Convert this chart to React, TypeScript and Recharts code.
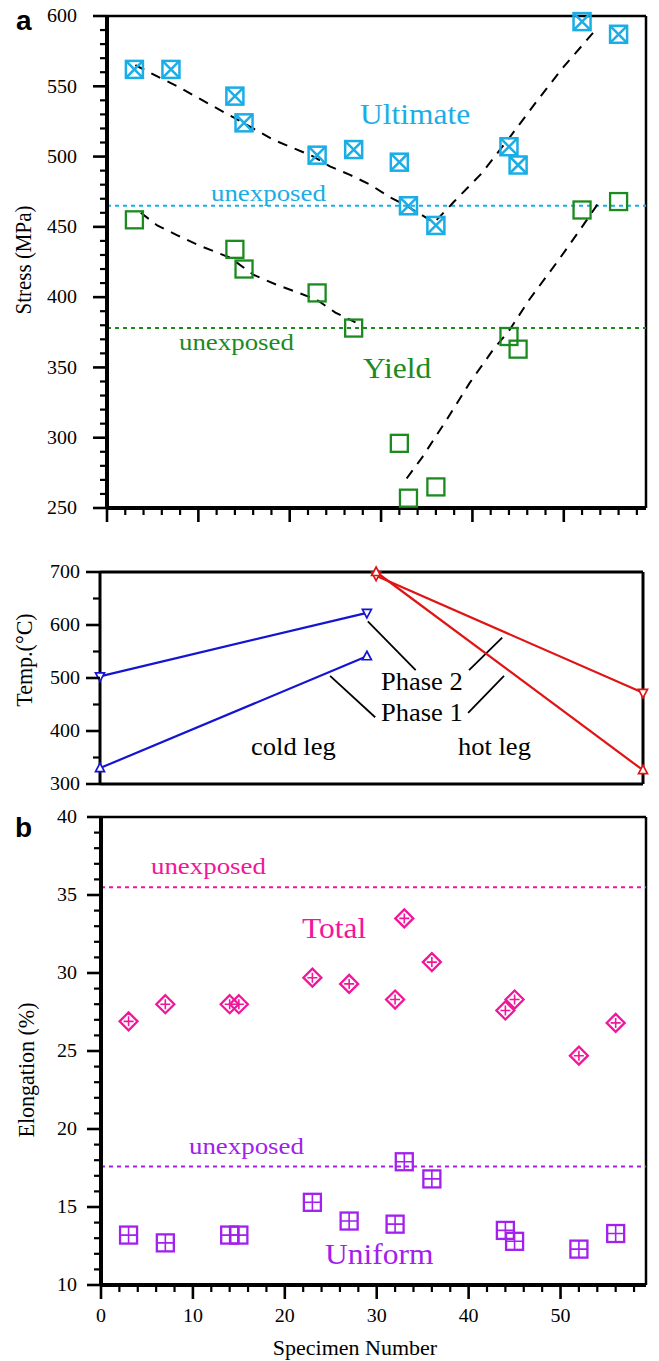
import React from 'react';
import { ComposedChart, Scatter, XAxis, YAxis, ReferenceLine } from 'recharts';

const FONT = '"Liberation Serif", "Times New Roman", Times, serif';
const SANS = '"Liberation Sans", Arial, sans-serif';

const ULT = '#1AADE6';
const YLD = '#1B8A1F';
const TOT = '#F2169B';
const UNI = '#A320EE';
const COLD = '#1414D2';
const HOT = '#E01414';

// panel a - stress vs specimen number
const ultSpecimen = [3, 7, 14, 15, 23, 27, 32, 33, 36, 44, 45, 52, 56];
const ultStress = [562, 562, 543, 524, 501, 505, 496, 465, 451, 507, 494, 596, 587];
const yldSpecimen = [3, 14, 15, 23, 27, 32, 33, 36, 44, 45, 52, 56];
const yldStress = [455, 434, 420, 403, 378, 296, 257, 265, 372, 363, 462, 468];
const ultUnexposed = 465;
const yldUnexposed = 378;

// dashed trend curves
const ultTrendX = [3.1, 5.5, 7.7, 9.9, 13.8, 16, 18.2, 20.4, 22.6, 24.4, 26.6, 28.8, 31, 32.8, 35.8, 38, 41, 44, 47, 50, 53.2];
const ultTrendY = [565, 557, 550, 542, 528, 520, 512, 506, 500, 493, 487, 480, 471, 465, 453, 468, 488, 513, 539, 564, 588];
const yldTrend1X = [3.7, 5.5, 7.7, 10, 13.5, 16, 18.5, 21, 23, 25, 27.2];
const yldTrend1Y = [460, 451, 444, 437, 428, 416, 409, 403, 398, 389, 382];
const yldTrend2X = [32.8, 34.5, 37.2, 39.7, 42.2, 44.1, 46.2, 49.5, 52, 53.8];
const yldTrend2Y = [271, 286, 313, 339, 362, 377, 398, 427, 450, 467];

// middle - temperature
const coldSpecimen = [0, 29];
const hotSpecimen = [30, 59];
const coldPhase1 = [330, 541];
const coldPhase2 = [503, 623];
const hotPhase1 = [700, 326];
const hotPhase2 = [693, 472];

// panel b - elongation
const elongSpecimen = [3, 7, 14, 15, 23, 27, 32, 33, 36, 44, 45, 52, 56];
const totalElong = [26.9, 28.0, 28.0, 28.0, 29.7, 29.3, 28.3, 33.5, 30.7, 27.6, 28.3, 24.7, 26.8];
const uniformElong = [13.2, 12.7, 13.2, 13.2, 15.3, 14.1, 13.9, 17.9, 16.8, 13.5, 12.8, 12.3, 13.3];
const totalUnexposed = 35.5;
const uniformUnexposed = 17.6;

const steps = (a: number, b: number, s: number) => {
  const out: number[] = [];
  for (let v = a; v <= b + 1e-9; v += s) out.push(Math.round(v * 100) / 100);
  return out;
};
const specimenTicks = steps(0, 58, 2);
const stressTicks = steps(250, 600, 10);
const tempTicks = steps(300, 700, 50);
const elongTicks = steps(10, 40, 1);

const pts = (xs: number[], ys: number[]) => xs.map((x, i) => ({ x, y: ys[i] }));

function SText({ x, y, size, anchor = 'start', color = '#000', sx = 1.08, dy, rotate, weight, family = FONT, children }: any) {
  const tf = `translate(${x},${y}) scale(${sx},1)` + (rotate ? ` rotate(${rotate})` : '');
  return (
    <g transform={tf}>
      <text x={0} y={0} dy={dy} fontSize={size} fontFamily={family} fontWeight={weight} fill={color} textAnchor={anchor}>
        {children}
      </text>
    </g>
  );
}

const isMajor = (v: number, step: number) => Math.abs(v / step - Math.round(v / step)) < 1e-6;

const xTick = (labels: boolean) => (p: any) => {
  const v = p.payload.value;
  const major = isMajor(v, 10);
  return (
    <g>
      <line x1={p.x} x2={p.x} y1={p.y} y2={p.y + (major ? 14 : 7)} stroke="#000" strokeWidth={major ? 2.6 : 2.2} />
      {labels && major && (
        <SText x={p.x} y={p.y + 37} anchor="middle" size={18.5}>{v}</SText>
      )}
    </g>
  );
};

const yTick = (step: number, gap: number, side: 'left' | 'right', labels = true) => (p: any) => {
  const v = p.payload.value;
  const major = isMajor(v, step);
  const dir = side === 'left' ? -1 : 1;
  return (
    <g>
      <line x1={p.x} x2={p.x + dir * (major ? 14 : 7)} y1={p.y} y2={p.y} stroke="#000" strokeWidth={major ? 2.6 : 2.2} />
      {labels && major && (
        <SText x={p.x - gap} y={p.y} dy="0.34em" anchor="end" size={18.5}>{v}</SText>
      )}
    </g>
  );
};

const noDot = () => <g />;

const UltMark = (p: any) => {
  const { cx, cy } = p;
  const h = 8.5;
  return (
    <g stroke={ULT} strokeWidth={2.5} fill="none">
      <rect x={cx - h} y={cy - h} width={2 * h} height={2 * h} />
      <path d={`M${cx - h},${cy - h}L${cx + h},${cy + h}M${cx + h},${cy - h}L${cx - h},${cy + h}`} />
    </g>
  );
};
const YldMark = (p: any) => {
  const h = 8.5;
  return <rect x={p.cx - h} y={p.cy - h} width={2 * h} height={2 * h} stroke={YLD} strokeWidth={2.3} fill="none" />;
};
const TotMark = (p: any) => {
  const { cx, cy } = p;
  const h = 9;
  const c = 5;
  return (
    <g stroke={TOT} strokeWidth={2.3} fill="none">
      <path d={`M${cx},${cy - h}L${cx + h},${cy}L${cx},${cy + h}L${cx - h},${cy}Z`} />
      <path d={`M${cx},${cy - c}L${cx},${cy + c}M${cx - c},${cy}L${cx + c},${cy}`} strokeWidth={1.6} />
    </g>
  );
};
const UniMark = (p: any) => {
  const { cx, cy } = p;
  const h = 8.5;
  return (
    <g stroke={UNI} strokeWidth={2.3} fill="none">
      <rect x={cx - h} y={cy - h} width={2 * h} height={2 * h} />
      <path d={`M${cx},${cy - h}L${cx},${cy + h}M${cx - h},${cy}L${cx + h},${cy}`} strokeWidth={1.6} />
    </g>
  );
};
const triUp = (color: string) => (p: any) => {
  const { cx, cy } = p;
  return <path d={`M${cx},${cy - 5}L${cx + 4.5},${cy + 3.5}L${cx - 4.5},${cy + 3.5}Z`} fill="#fff" stroke={color} strokeWidth={1.7} />;
};
const triDown = (color: string) => (p: any) => {
  const { cx, cy } = p;
  return <path d={`M${cx},${cy + 5}L${cx + 4.5},${cy - 3.5}L${cx - 4.5},${cy - 3.5}Z`} fill="#fff" stroke={color} strokeWidth={1.7} />;
};

const dashed = { stroke: '#000', strokeWidth: 2, strokeDasharray: '10 8' };
const axisThick = { stroke: '#000', strokeWidth: 4 };

export default function App() {
  return (
    <div style={{ position: 'absolute', left: 0, top: 0, width: 659, height: 1361, background: '#fff' }}>
      {/* panel a */}
      <div style={{ position: 'absolute', left: 0, top: 0 }}>
        <ComposedChart width={659} height={530} margin={{ top: 16, right: 13, bottom: 0, left: 0 }}>
          <XAxis type="number" dataKey="x" domain={[0, 59]} ticks={specimenTicks} interval={0} height={22}
            tickSize={0} tickMargin={0} axisLine={axisThick} tickLine={false} tick={xTick(false)} />
          <YAxis type="number" dataKey="y" domain={[250, 600]} ticks={stressTicks} interval={0} width={107}
            tickSize={0} tickMargin={0} axisLine={axisThick} tickLine={false} tick={yTick(50, 30, 'left')} />
          <ReferenceLine y={600} stroke="#000" strokeWidth={2.5} />
          <ReferenceLine x={59} stroke="#000" strokeWidth={2.5} />
          <ReferenceLine y={ultUnexposed} stroke={ULT} strokeWidth={2} strokeDasharray="4 4" />
          <ReferenceLine y={yldUnexposed} stroke={YLD} strokeWidth={2} strokeDasharray="4 4" />
          <Scatter data={pts(ultTrendX, ultTrendY)} line={dashed} shape={noDot} isAnimationActive={false} />
          <Scatter data={pts(yldTrend1X, yldTrend1Y)} line={dashed} shape={noDot} isAnimationActive={false} />
          <Scatter data={pts(yldTrend2X, yldTrend2Y)} line={dashed} shape={noDot} isAnimationActive={false} />
          <Scatter data={pts(yldSpecimen, yldStress)} shape={YldMark} isAnimationActive={false} />
          <Scatter data={pts(ultSpecimen, ultStress)} shape={UltMark} isAnimationActive={false} />
        </ComposedChart>
      </div>

      {/* temperature */}
      <div style={{ position: 'absolute', left: 0, top: 550 }}>
        <ComposedChart width={659} height={250} margin={{ top: 22, right: 0, bottom: 16, left: 0 }}>
          <XAxis type="number" dataKey="x" domain={[0, 59]} hide />
          <YAxis type="number" dataKey="y" domain={[300, 700]} ticks={tempTicks} interval={0} width={100}
            tickSize={0} tickMargin={0} axisLine={{ stroke: '#000', strokeWidth: 3 }} tickLine={false}
            tick={yTick(100, 20, 'left')} />
          <YAxis yAxisId="r" orientation="right" type="number" domain={[300, 700]} ticks={tempTicks} interval={0} width={16}
            tickSize={0} tickMargin={0} axisLine={{ stroke: '#000', strokeWidth: 3 }} tickLine={false}
            tick={yTick(100, 0, 'right', false)} />
          <ReferenceLine y={700} stroke="#000" strokeWidth={3} />
          <ReferenceLine y={300} stroke="#000" strokeWidth={3} />
          <ReferenceLine segment={[{ x: 29.1, y: 607 }, { x: 34.3, y: 515 }]} stroke="#000" strokeWidth={1.8} />
          <ReferenceLine segment={[{ x: 40.1, y: 515 }, { x: 43.7, y: 576 }]} stroke="#000" strokeWidth={1.8} />
          <ReferenceLine segment={[{ x: 25, y: 504 }, { x: 29.9, y: 426 }]} stroke="#000" strokeWidth={1.8} />
          <ReferenceLine segment={[{ x: 40, y: 434 }, { x: 43.9, y: 504 }]} stroke="#000" strokeWidth={1.8} />
          <Scatter data={pts(coldSpecimen, coldPhase1)} line={{ stroke: COLD, strokeWidth: 2.2 }} shape={triUp(COLD)} isAnimationActive={false} />
          <Scatter data={pts(coldSpecimen, coldPhase2)} line={{ stroke: COLD, strokeWidth: 2.2 }} shape={triDown(COLD)} isAnimationActive={false} />
          <Scatter data={pts(hotSpecimen, hotPhase2)} line={{ stroke: HOT, strokeWidth: 2.2 }} shape={triDown(HOT)} isAnimationActive={false} />
          <Scatter data={pts(hotSpecimen, hotPhase1)} line={{ stroke: HOT, strokeWidth: 2.2 }} shape={triUp(HOT)} isAnimationActive={false} />
        </ComposedChart>
      </div>

      {/* panel b */}
      <div style={{ position: 'absolute', left: 0, top: 790 }}>
        <ComposedChart width={659} height={571} margin={{ top: 27, right: 13, bottom: 0, left: 0 }}>
          <XAxis type="number" dataKey="x" domain={[0, 59.3]} ticks={specimenTicks} interval={0} height={76}
            tickSize={0} tickMargin={0} axisLine={axisThick} tickLine={false} tick={xTick(true)} />
          <YAxis type="number" dataKey="y" domain={[10, 40]} ticks={elongTicks} interval={0} width={101}
            tickSize={0} tickMargin={0} axisLine={axisThick} tickLine={false} tick={yTick(5, 24, 'left')} />
          <ReferenceLine y={40} stroke="#000" strokeWidth={2.5} />
          <ReferenceLine x={59.3} stroke="#000" strokeWidth={2.5} />
          <ReferenceLine y={totalUnexposed} stroke={TOT} strokeWidth={2} strokeDasharray="4 4" />
          <ReferenceLine y={uniformUnexposed} stroke={UNI} strokeWidth={2} strokeDasharray="4 4" />
          <Scatter data={pts(elongSpecimen, totalElong)} shape={TotMark} isAnimationActive={false} />
          <Scatter data={pts(elongSpecimen, uniformElong)} shape={UniMark} isAnimationActive={false} />
        </ComposedChart>
      </div>

      {/* text overlay */}
      <svg width={659} height={1361} style={{ position: 'absolute', left: 0, top: 0, pointerEvents: 'none' }}>
        <SText x={16} y={30} size={28} weight="bold" family={SANS} sx={1}>a</SText>
        <SText x={15} y={837} size={28} weight="bold" family={SANS} sx={1}>b</SText>

        <SText x={31} y={260} size={21} anchor="middle" rotate={-90}>Stress (MPa)</SText>
        <SText x={32} y={660} size={22} anchor="middle" rotate={-90}>Temp.(°C)</SText>
        <SText x={34} y={1070} size={22} anchor="middle" rotate={-90}>Elongation (%)</SText>
        <SText x={355} y={1355} size={20} anchor="middle" sx={1.1}>Specimen Number</SText>

        <SText x={360} y={124} size={30} sx={1.05} color={ULT}>Ultimate</SText>
        <SText x={211} y={201} size={24} sx={1.12} color={ULT}>unexposed</SText>
        <SText x={179} y={350} size={24} sx={1.12} color={YLD}>unexposed</SText>
        <SText x={363} y={378} size={30} sx={1.05} color={YLD}>Yield</SText>

        <SText x={381} y={690} size={26} sx={1.02}>Phase 2</SText>
        <SText x={381} y={721} size={26} sx={1.02}>Phase 1</SText>
        <SText x={251} y={755} size={26} sx={1.02}>cold leg</SText>
        <SText x={458} y={755} size={26} sx={1.02}>hot leg</SText>

        <SText x={151} y={874} size={24} sx={1.12} color={TOT}>unexposed</SText>
        <SText x={302} y={938} size={30} sx={1.05} color={TOT}>Total</SText>
        <SText x={189} y={1154} size={24} sx={1.12} color={UNI}>unexposed</SText>
        <SText x={325} y={1264} size={30} sx={1.05} color={UNI}>Uniform</SText>
      </svg>
    </div>
  );
}
